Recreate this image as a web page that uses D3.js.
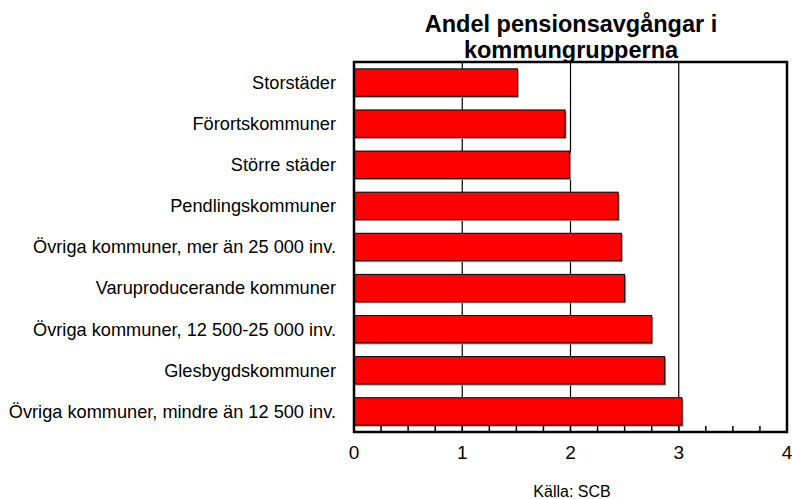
<!DOCTYPE html>
<html><head><meta charset="utf-8">
<script src="https://cdn.jsdelivr.net/npm/d3@7"></script>
<style>body{margin:0;background:#fff}svg{display:block;font-family:"Liberation Sans",Arial,sans-serif}</style>
</head><body><div id="chart"></div>
<script>
const categories = ["Storstäder","Förortskommuner","Större städer","Pendlingskommuner","Övriga kommuner, mer än 25 000 inv.","Varuproducerande kommuner","Övriga kommuner, 12 500-25 000 inv.","Glesbygdskommuner","Övriga kommuner, mindre än 12 500 inv."];
const values = [1.51,1.95,1.99,2.44,2.47,2.50,2.75,2.87,3.03];
const xTicks = [0,1,2,3,4];
const minorTicks = d3.range(0,4.001,0.25);
const titleLines = ["Andel pensionsavgångar i","kommungrupperna"];
const source = "Källa: SCB";

const W=792,H=499;
const m={left:354,right:5,top:62,bottom:67};
const svg=d3.select("#chart").append("svg").attr("width",W).attr("height",H);
const x=d3.scaleLinear().domain([0,4]).range([m.left,W-m.right]);
const y=d3.scaleBand().domain(categories).range([m.top,H-m.bottom]).paddingInner(0.333).paddingOuter(0.167);

// gridlines
svg.append("g").selectAll("line").data(xTicks.slice(1,4)).join("line")
 .attr("x1",d=>x(d)).attr("x2",d=>x(d)).attr("y1",m.top).attr("y2",H-m.bottom)
 .attr("stroke","#000").attr("stroke-width",1.2);

// bar shadows
svg.append("g").selectAll("rect").data(values).join("rect")
 .attr("x",x(0)+1.5).attr("y",(d,i)=>y(categories[i])+1.5)
 .attr("width",d=>x(d)-x(0)).attr("height",y.bandwidth())
 .attr("fill","#999");
// bars
svg.append("g").selectAll("rect").data(values).join("rect")
 .attr("x",x(0)).attr("y",(d,i)=>y(categories[i]))
 .attr("width",d=>x(d)-x(0)).attr("height",y.bandwidth())
 .attr("fill","#ff0000").attr("stroke","#000").attr("stroke-width",1);

// minor ticks
svg.append("g").selectAll("line").data(minorTicks).join("line")
 .attr("x1",d=>x(d)).attr("x2",d=>x(d)).attr("y1",H-m.bottom).attr("y2",H-m.bottom-6)
 .attr("stroke","#000").attr("stroke-width",1.5);

// frame
svg.append("rect").attr("x",m.left).attr("y",m.top).attr("width",x(4)-m.left).attr("height",H-m.bottom-m.top)
 .attr("fill","none").attr("stroke","#000").attr("stroke-width",2.5);

// x tick labels
svg.append("g").selectAll("text").data(xTicks).join("text")
 .attr("x",d=>x(d)).attr("y",H-m.bottom+27).attr("text-anchor","middle")
 .attr("font-size",19).text(d=>d);

// category labels
svg.append("g").selectAll("text").data(categories).join("text")
 .attr("x",336).attr("y",d=>y(d)+y.bandwidth()/2).attr("dy","0.35em")
 .attr("text-anchor","end").attr("font-size",18.2).text(d=>d);

// title
svg.append("g").selectAll("text").data(titleLines).join("text")
 .attr("x",571).attr("y",(d,i)=>32+i*25.5).attr("text-anchor","middle")
 .attr("font-size",23.5).attr("font-weight","bold").text(d=>d);

svg.append("text").attr("x",572).attr("y",497).attr("text-anchor","middle").attr("font-size",16).text(source);
</script></body></html>
